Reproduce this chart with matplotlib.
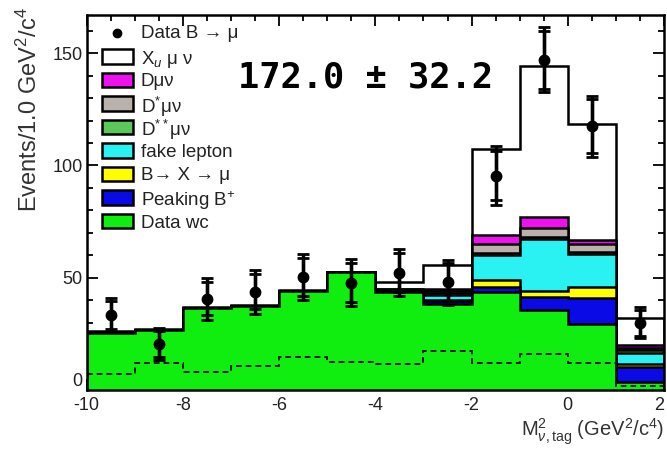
import numpy as np
import matplotlib
matplotlib.use("Agg")
import matplotlib.pyplot as plt
from matplotlib.patches import Rectangle
from matplotlib.ticker import MultipleLocator

plt.rcParams["font.family"] = ["Liberation Sans", "DejaVu Sans"]
plt.rcParams["mathtext.fontset"] = "custom"
plt.rcParams["mathtext.rm"] = "Liberation Sans"
plt.rcParams["mathtext.it"] = "Liberation Sans:italic"
plt.rcParams["mathtext.bf"] = "Liberation Sans:bold"

# Bin edges of the missing-mass-squared distribution (1 GeV^2/c^4 bins)
edges = np.arange(-10, 3, 1)
centers = edges[:-1] + 0.5

# Stacked components, bottom to top
data_wc   = [25.5, 26.8, 36.6, 37.5, 44.2, 52.5, 43.5, 38.5, 43.7, 35.7, 29.5, 3.4]
peaking_b = [0.0, 0.0, 0.0, 0.0, 0.0, 0.0, 0.4, 1.0, 2.0, 5.5, 11.5, 7.0]
b_x_mu    = [0.0, 0.0, 0.0, 0.0, 0.0, 0.0, 0.3, 0.5, 3.5, 3.0, 5.0, 1.3]
fake_lep  = [0.0, 0.0, 0.0, 0.0, 0.0, 0.0, 0.4, 2.5, 11.0, 23.0, 14.5, 5.0]
dss_munu  = [0.0, 0.0, 0.0, 0.0, 0.0, 0.0, 0.1, 0.5, 1.0, 0.8, 0.8, 1.2]
ds_munu   = [0.0, 0.0, 0.0, 0.0, 0.0, 0.0, 0.1, 1.0, 4.0, 4.0, 3.5, 1.0]
d_munu    = [0.0, 0.0, 0.0, 0.0, 0.0, 0.0, 0.1, 1.0, 4.0, 5.0, 2.0, 1.0]
xu_munu   = [0.8, 0.4, 0.4, 0.3, 0.3, 0.2, 3.2, 10.5, 38.2, 67.3, 51.5, 12.1]

# Dashed reference histogram
dashed = [7.1, 11.9, 8.2, 10.7, 14.9, 12.4, 11.6, 17.5, 11.9, 16.0, 11.9, 1.6]

# Data points with inner (statistical) and outer (total) errors
data_y    = [33.5, 20.5, 40.6, 43.7, 50.4, 47.8, 52.3, 48.0, 95.5, 147.0, 117.4, 30.0]
err_outer = [7.5, 7.2, 9.4, 9.8, 10.2, 10.5, 10.3, 10.0, 13.0, 14.5, 13.6, 7.0]
err_inner = [6.3, 6.0, 7.3, 7.8, 8.5, 8.8, 8.6, 8.4, 11.0, 12.8, 12.0, 5.8]

components = [
    ("Data wc", data_wc, "#10ee10"),
    ("Peaking B$^{+}$", peaking_b, "#0a0ae6"),
    ("B→ X → μ", b_x_mu, "#ffff00"),
    ("fake lepton", fake_lep, "#2af2f2"),
    ("D$^{**}$μν", dss_munu, "#5cc85c"),
    ("D$^{*}$μν", ds_munu, "#b9b1aa"),
    ("Dμν", d_munu, "#ee10ee"),
    ("X$_{u}$ μ ν", xu_munu, "#ffffff"),
]

W, H = 667, 453
fig = plt.figure(figsize=(W / 100, H / 100), dpi=100)
ax = fig.add_axes([0.130, 0.139, 0.8655, 0.828])

# cumulative tops, drawn from the top layer down so lower layers sit in front
tops = np.cumsum([np.array(c[1]) for c in components], axis=0)
for i in range(len(components) - 1, -1, -1):
    ax.stairs(tops[i], edges, baseline=0, fill=True,
              facecolor=components[i][2], edgecolor="none", zorder=2 + (8 - i))
    ax.stairs(tops[i], edges, baseline=0, fill=False,
              color="black", linewidth=1.8, zorder=2.5 + (8 - i))

ax.stairs(dashed, edges, baseline=None, color="#1a1a1a", linewidth=1.4,
          linestyle=(0, (3, 2)), zorder=20)

ax.errorbar(centers, data_y, yerr=err_outer, fmt="none", ecolor="black",
            elinewidth=2.4, capsize=4.5, capthick=2.0, zorder=30)
ax.errorbar(centers, data_y, yerr=err_inner, fmt="o", color="black",
            markersize=7.5, elinewidth=2.4, capsize=4.5, capthick=2.0, zorder=31)

ax.set_xlim(-10, 2)
ax.set_ylim(0, 167)

ax.xaxis.set_major_locator(MultipleLocator(2))
ax.xaxis.set_minor_locator(MultipleLocator(0.5))
ax.yaxis.set_major_locator(MultipleLocator(50))
ax.yaxis.set_minor_locator(MultipleLocator(10))
ax.tick_params(which="both", direction="in", top=True, right=True,
               labelsize=13, labelcolor="#222222", width=1.3)
ax.tick_params(which="major", length=8)
ax.tick_params(which="minor", length=4.5)
ax.tick_params(axis="x", pad=5)
ax.tick_params(axis="y", pad=3)
ax.set_xticks(np.arange(-10, 3, 2))
ax.set_xticklabels(["-10", "-8", "-6", "-4", "-2", "0", "2"])
ax.get_xticklabels()[-1].set_horizontalalignment("right")
ax.set_yticks([0, 50, 100, 150])
ax.set_yticklabels(["0", "50", "100", "150"])
ax.get_yticklabels()[0].set_verticalalignment("bottom")
for s in ax.spines.values():
    s.set_linewidth(1.8)
    s.set_zorder(40)

ax.set_ylabel("Events/1.0 GeV$^{2}$/c$^{4}$", fontsize=17, color="#333333",
              loc="top")
ax.yaxis.set_label_coords(-0.077, 1.02)
ax.set_xlabel(r"M$^{2}_{\nu,\mathrm{tag}}$ (GeV$^{2}$/c$^{4}$)", fontsize=14.5,
              color="#333333", loc="right", labelpad=2)

ax.text(0.483, 0.833, "172.0 ± 32.2", transform=ax.transAxes,
        fontsize=25.5, fontweight="bold", family="DejaVu Sans Mono",
        ha="center", va="center", zorder=50)

# Legend laid out on a fixed pixel grid so every row has the same pitch
def fx(px):
    return px / W

def fy(py):
    return 1 - py / H

row0, pitch = 33, 23.5
box_l, box_w, box_h, text_x = 102, 31, 14, 141
fig.add_artist(plt.Line2D([fx(117)], [fy(row0)], marker="o", color="black",
                          markersize=6, linestyle="none"))
fig.text(fx(text_x), fy(row0), "Data B → μ", fontsize=13.5, color="#222222",
         va="center", ha="left")
for k, (name, _, col) in enumerate(components[::-1], start=1):
    yc = row0 + k * pitch
    fig.add_artist(Rectangle((fx(box_l), fy(yc + box_h / 2)), box_w / W, box_h / H,
                             transform=fig.transFigure, facecolor=col,
                             edgecolor="black", linewidth=1.8, zorder=60))
    fig.text(fx(text_x), fy(yc), name, fontsize=13.5, color="#222222",
             va="center_baseline", ha="left")

fig.savefig("out.png", dpi=100)
